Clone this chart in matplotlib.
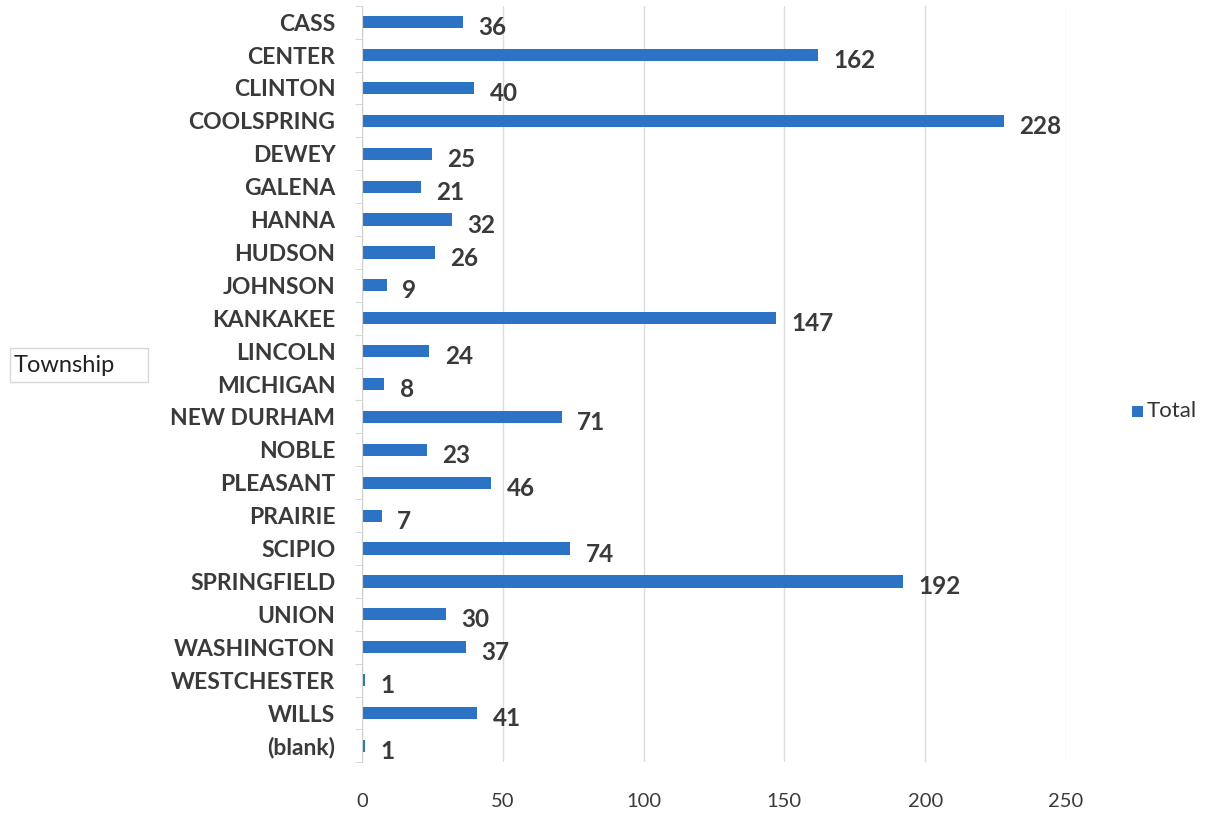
import matplotlib.pyplot as plt
from matplotlib.patches import Rectangle

# Township totals (top to bottom).
townships = ["CASS", "CENTER", "CLINTON", "COOLSPRING", "DEWEY", "GALENA", "HANNA",
             "HUDSON", "JOHNSON", "KANKAKEE", "LINCOLN", "MICHIGAN", "NEW DURHAM",
             "NOBLE", "PLEASANT", "PRAIRIE", "SCIPIO", "SPRINGFIELD", "UNION",
             "WASHINGTON", "WESTCHESTER", "WILLS", "(blank)"]
totals = [36, 162, 40, 228, 25, 21, 32, 26, 9, 147, 24, 8, 71, 23, 46, 7, 74,
          192, 30, 37, 1, 41, 1]
x_ticks = [0, 50, 100, 150, 200, 250]

plt.rcParams["font.family"] = ["Lato", "DejaVu Sans"]
bar_color = "#2C73C6"
text_color = "#3a3a3a"

fig = plt.figure(figsize=(12.06, 8.18), dpi=100)
ax = fig.add_axes([0.300, 0.068, 0.584, 0.925])

positions = list(range(len(townships)))
ax.barh(positions, totals, height=0.37, color=bar_color)
ax.set_ylim(len(townships) - 0.5, -0.5)
ax.set_xlim(0, 250)

# Value labels next to each bar.
for pos, val in zip(positions, totals):
    ax.annotate(str(val), (val, pos), xytext=(11, -4), textcoords="offset points",
                va="center", ha="left", fontsize=17.5, fontweight="bold", color=text_color)

ax.set_yticks(positions)
ax.set_yticklabels(townships, fontsize=16.5, fontweight="bold", color=text_color)
ax.set_yticks([p + 0.5 for p in [-1] + positions], minor=True)
ax.tick_params(axis="y", which="major", length=0, pad=19)
ax.tick_params(axis="y", which="minor", length=5, color="#d0d0d0")

ax.set_xticks(x_ticks)
ax.tick_params(axis="x", length=0, labelsize=14.5, colors=text_color, pad=22)
ax.grid(axis="x", color="#dcdcdc", linewidth=1)
ax.set_axisbelow(True)

for side in ["top", "right", "bottom"]:
    ax.spines[side].set_visible(False)
ax.spines["left"].set_color("#d0d0d0")

# Field button on the left and legend on the right.
fig.patches.append(Rectangle((10 / 1206, 1 - 382 / 818), 138 / 1206, 34 / 818,
                             transform=fig.transFigure, facecolor="white",
                             edgecolor="#d8d8d8", linewidth=1))
fig.text(14 / 1206, 1 - 365 / 818, "Township", fontsize=17, va="center", color="#222222")

fig.patches.append(Rectangle((1132 / 1206, 1 - 417 / 818), 11 / 1206, 11 / 818,
                             transform=fig.transFigure, facecolor=bar_color))
fig.text(1147 / 1206, 1 - 411 / 818, "Total", fontsize=16, va="center", color="#333333")

fig.savefig("out.png", dpi=100, facecolor="white")
